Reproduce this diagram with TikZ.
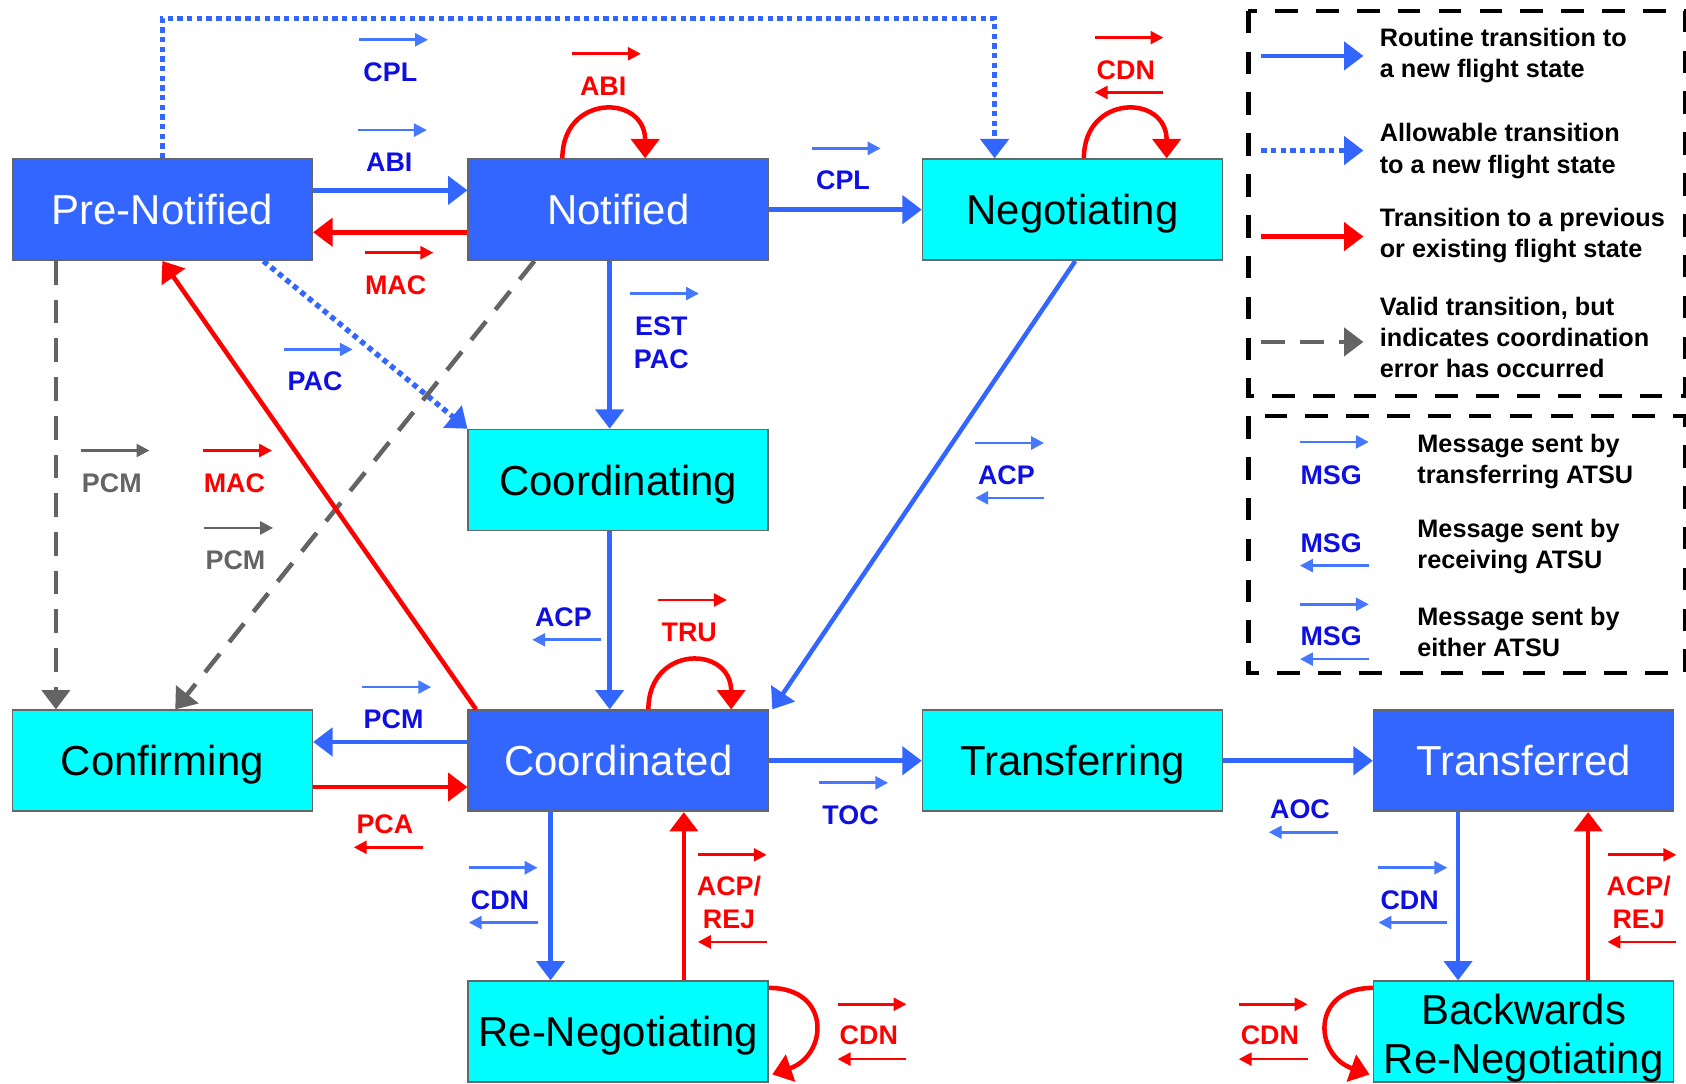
\documentclass[tikz,border=0pt]{standalone}
\usepackage{fontspec}
\setmainfont{Liberation Sans}
\usetikzlibrary{arrows.meta,calc}
\definecolor{boxblue}{RGB}{51,102,255}
\definecolor{cyanbox}{RGB}{0,255,255}
\definecolor{lineblue}{RGB}{51,102,255}
\definecolor{msgblue}{RGB}{70,120,255}
\definecolor{lblblue}{RGB}{15,15,225}
\definecolor{redc}{RGB}{255,0,0}
\definecolor{grayc}{RGB}{100,100,100}
\newcommand\ArR[3][30]{\draw[#2] ([xshift=-29pt,yshift=#1pt]#3.center) -- ([xshift=35pt,yshift=#1pt]#3.center);}
\newcommand\ArL[3][21]{\draw[#2] ([xshift=35pt,yshift=-#1pt]#3.center) -- ([xshift=-29pt,yshift=-#1pt]#3.center);}
\begin{document}
\begin{tikzpicture}[x=1pt,y=-1pt,
  state/.style={draw=black!60, line width=1.5pt, minimum width=279pt, minimum height=94pt, inner sep=0pt, font=\fontsize{39}{45}\selectfont, align=center, text depth=0pt},
  bstate/.style={state, fill=boxblue, text=white},
  cstate/.style={state, fill=cyanbox, text=black},
  tbase/.style={line width=4.2pt, -{Triangle[length=18pt,width=26pt]}},
  tblue/.style={tbase, draw=lineblue},
  tred/.style={tbase, draw=redc},
  tdot/.style={tbase, draw=lineblue, line width=5pt, dash pattern=on 5pt off 4pt},
  tgray/.style={tbase, draw=grayc, dash pattern=on 22pt off 14pt},
  lbl/.style={font=\bfseries\fontsize{25}{31}\selectfont, inner sep=0pt, align=center},
  lb/.style={lbl, text=lblblue},
  lr/.style={lbl, text=redc},
  lg/.style={lbl, text=grayc},
  mbase/.style={line width=2.5pt, -{Triangle[length=12pt,width=12pt]}},
  mb/.style={mbase, draw=msgblue},
  mr/.style={mbase, draw=redc},
  mg/.style={mbase, draw=grayc},
  legtxt/.style={font=\bfseries\fontsize{23.5}{29}\selectfont, inner sep=0pt, align=left, anchor=west},
  legbox/.style={draw=black, line width=4pt, dash pattern=on 21pt off 17pt},
]
\useasboundingbox (0,0) rectangle (1568,1008);

% ---------- states ----------
\node[bstate] (pre)    at (151,195)   {Pre-Notified};
\node[bstate] (notif)  at (575,195)   {Notified};
\node[cstate] (nego)   at (997.5,195) {Negotiating};
\node[cstate] (coordi) at (575,446.5) {Coordinating};
\node[cstate] (conf)   at (151,707.5) {Confirming};
\node[bstate] (coord)  at (575,707.5) {Coordinated};
\node[cstate] (trans)  at (997.5,707.5) {Transferring};
\node[bstate] (transd) at (1417,707.5) {Transferred};
\node[cstate] (reneg)  at (575,959.5) {Re-Negotiating};
\node[cstate] (breneg) at (1417,959.5) {};
\node[font=\fontsize{39}{45}\selectfont, align=center, inner sep=0pt] (brenegtxt) at ([yshift=-6pt]breneg.center) {Backwards\\Re-Negotiating};

% ---------- transitions ----------
\draw[tblue] ([yshift=18pt]pre.east) -- ([yshift=18pt]notif.west);
\draw[tred] ([yshift=-21pt]notif.west) -- ([yshift=-21pt]pre.east);
\draw[tblue] (notif.east) -- (nego.west);
\draw[tdot] (pre.north) -- ++(0,-130) -| ([xshift=-72.5pt]nego.north);
\draw[tred] ([xshift=-52pt]notif.north) .. controls +(0,-60) and +(0,-60) .. ([xshift=25pt]notif.north);
\draw[tred] ([xshift=10.5pt]nego.north) .. controls +(0,-60) and +(0,-60) .. ([xshift=87.5pt]nego.north);
\draw[tblue] ([xshift=-8pt]notif.south) -- ([xshift=-8pt]coordi.north);
\draw[tdot] ([xshift=94pt]pre.south) -- (coordi.north west);
\draw[tgray] ([xshift=-78pt]notif.south) -- ([xshift=12pt]conf.north);
\draw[tgray] ([xshift=-99pt]pre.south) -- ([xshift=-99pt]conf.north);
\draw[tred] ([xshift=8pt]coord.north west) -- (pre.south);
\draw[tblue] ([xshift=-8pt]coordi.south) -- ([xshift=-8pt]coord.north);
\draw[tblue] ([xshift=2.5pt]nego.south) -- ([xshift=3pt]coord.north east);
\draw[tred] ([xshift=28pt]coord.north) .. controls +(0,-60) and +(0,-60) .. ([xshift=105pt]coord.north);
\draw[tblue] ([yshift=17.5pt]coord.west) -- ([yshift=17.5pt]conf.east);
\draw[tred] ([yshift=-24.5pt]conf.east) -- ([yshift=-24.5pt]coord.west);
\draw[tblue] (coord.east) -- (trans.west);
\draw[tblue] (trans.east) -- (transd.west);
\draw[tblue] ([xshift=-63pt]coord.south) -- ([xshift=-63pt]reneg.north);
\draw[tred] ([xshift=61pt]reneg.north) -- ([xshift=61pt]coord.south);
\draw[tred] ([yshift=-7pt]reneg.north east) .. controls +(58,0) and +(52,-18) .. ([xshift=3pt,yshift=8pt]reneg.south east);
\draw[tblue] ([xshift=-61pt]transd.south) -- ([xshift=-61pt]breneg.north);
\draw[tred] ([xshift=60pt]breneg.north) -- ([xshift=60pt]transd.south);
\draw[tred] ([yshift=-7pt]breneg.north west) .. controls +(-58,0) and +(-52,-18) .. ([xshift=-3pt,yshift=8pt]breneg.south west);

% ---------- message labels ----------
\node[lb] (mCPLa) at (363,67) {CPL};   \ArR{mb}{mCPLa}
\node[lb] (mABIa) at (362,151) {ABI};  \ArR{mb}{mABIa}
\node[lr] (mMACa) at (368,265) {MAC};  \ArR{mr}{mMACa}
\node[lr] (mABIb) at (561,80) {ABI};   \ArR{mr}{mABIb}
\node[lb] (mCPLb) at (784,168) {CPL};  \ArR{mb}{mCPLb}
\node[lr] (mCDNa) at (1047,65) {CDN};  \ArR{mr}{mCDNa} \ArL{mr}{mCDNa}
\node[lb] (mEST) at (615,319) {EST\\PAC}; \ArR[46]{mb}{mEST}
\node[lb] (mPACa) at (293,355) {PAC};  \ArR{mb}{mPACa}
\node[lg] (mPCMa) at (104,449) {PCM};  \ArR{mg}{mPCMa}
\node[lr] (mMACb) at (218,449) {MAC};  \ArR{mr}{mMACb}
\node[lg] (mPCMb) at (219,521) {PCM};  \ArR{mg}{mPCMb}
\node[lb] (mACPa) at (936,442) {ACP};  \ArR{mb}{mACPa} \ArL{mb}{mACPa}
\node[lb] (mACPb) at (524,574) {ACP};  \ArL{mb}{mACPb}
\node[lr] (mTRU) at (641,588) {TRU};   \ArR{mr}{mTRU}
\node[lb] (mPCMc) at (366,669) {PCM};  \ArR{mb}{mPCMc}
\node[lr] (mPCA) at (358,767) {PCA};   \ArL{mr}{mPCA}
\node[lb] (mTOC) at (791,758) {TOC};   \ArR{mb}{mTOC}
\node[lb] (mAOC) at (1209,753) {AOC};  \ArL{mb}{mAOC}
\node[lb] (mCDNb) at (465,837) {CDN};  \ArR{mb}{mCDNb} \ArL{mb}{mCDNb}
\node[lr] (mACPc) at (678,839.5) {ACP/\\REJ}; \ArR[44.5]{mr}{mACPc} \ArL[36.5]{mr}{mACPc}
\node[lr] (mCDNc) at (808,963) {CDN};  \ArR[29]{mr}{mCDNc} \ArL[22]{mr}{mCDNc}
\node[lb] (mCDNd) at (1311,837) {CDN}; \ArR{mb}{mCDNd} \ArL{mb}{mCDNd}
\node[lr] (mACPd) at (1524,839.5) {ACP/\\REJ}; \ArR[44.5]{mr}{mACPd} \ArL[36.5]{mr}{mACPd}
\node[lr] (mCDNe) at (1181,963) {CDN}; \ArR[29]{mr}{mCDNe} \ArL[22]{mr}{mCDNe}

% ---------- legend ----------
\draw[legbox] (1161,10) rectangle (1567,368);
\draw[legbox] (1161,387) rectangle (1567,626);
\coordinate (la1) at (1173,52);  \coordinate (lb1) at (1268,52);
\coordinate (la2) at (1173,140); \coordinate (lb2) at (1268,140);
\coordinate (la3) at (1173,220); \coordinate (lb3) at (1268,220);
\coordinate (la4) at (1173,318); \coordinate (lb4) at (1268,318);
\draw[tblue] (la1) -- (lb1);
\draw[tdot] (la2) -- (lb2);
\draw[tred] (la3) -- (lb3);
\draw[tgray] (la4) -- (lb4);
\node[legtxt] (lt1) at (1283,51.5) {Routine transition to\\a new flight state};
\node[legtxt] (lt2) at (1283,140.5) {Allowable transition\\to a new flight state};
\node[legtxt] (lt3) at (1283,219) {Transition to a previous\\or existing flight state};
\node[legtxt] (lt4) at (1283,314) {Valid transition, but\\indicates coordination\\error has occurred};
\node[lb] (msg1) at (1238,442) {MSG}; \ArR[31]{mb}{msg1}
\node[lb] (msg2) at (1238,505) {MSG}; \ArL{mb}{msg2}
\node[lb] (msg3) at (1238,592) {MSG}; \ArR{mb}{msg3} \ArL{mb}{msg3}
\node[legtxt] (lt5) at (1318,429) {Message sent by\\transferring ATSU};
\node[legtxt] (lt6) at (1318,508.5) {Message sent by\\receiving ATSU};
\node[legtxt] (lt7) at (1318,587.5) {Message sent by\\either ATSU};
\end{tikzpicture}
\end{document}
